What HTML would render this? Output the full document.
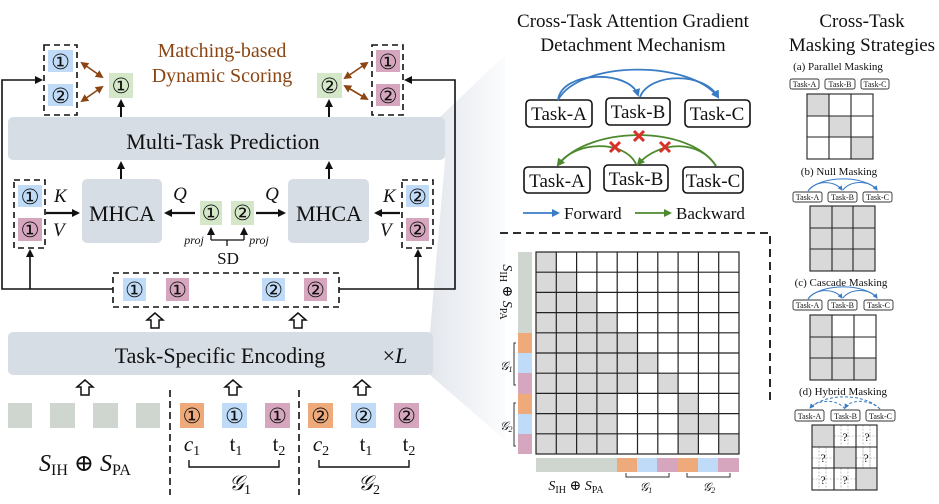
<!DOCTYPE html>
<html><head><meta charset="utf-8"><style>
html,body{margin:0;padding:0;background:#fff}
svg{display:block}
text{font-family:"Liberation Serif","DejaVu Serif",serif;fill:#111}
.c{font-family:"DejaVu Sans",sans-serif;font-size:21px;text-anchor:middle}
</style></head><body>
<svg width="939" height="504" viewBox="0 0 939 504" xmlns="http://www.w3.org/2000/svg">
<defs>
<marker id="ah" markerWidth="8" markerHeight="8" refX="6" refY="4" orient="auto" markerUnits="userSpaceOnUse"><path d="M0,0 L8,4 L0,8 z" fill="#111"/></marker>
<marker id="ab" markerWidth="8" markerHeight="8" refX="6" refY="4" orient="auto-start-reverse" markerUnits="userSpaceOnUse"><path d="M0,0 L8,4 L0,8 z" fill="#8b4513"/></marker>
<marker id="abl" markerWidth="8" markerHeight="8" refX="6" refY="4" orient="auto" markerUnits="userSpaceOnUse"><path d="M0,0 L8,4 L0,8 z" fill="#3a7cc4"/></marker>
<marker id="agr" markerWidth="8" markerHeight="8" refX="6" refY="4" orient="auto" markerUnits="userSpaceOnUse"><path d="M0,0 L8,4 L0,8 z" fill="#4d8a2e"/></marker>
<marker id="abs" markerWidth="5" markerHeight="5" refX="4" refY="2.5" orient="auto" markerUnits="userSpaceOnUse"><path d="M0,0 L5,2.5 L0,5 z" fill="#3a7cc4"/></marker>
<linearGradient id="fg" x1="0" x2="1"><stop offset="0" stop-color="#e3e7ed"/><stop offset="1" stop-color="#fbfcfd"/></linearGradient>
</defs>
<polygon points="440,117 505,55 505,440 430,375 430,332 445,160" fill="url(#fg)"/>
<rect x="8" y="117" width="437" height="43" rx="5" fill="#d7dde5"/>
<text x="223" y="149" font-size="22" text-anchor="middle">Multi-Task Prediction</text>
<rect x="44" y="45" width="33" height="70" fill="none" stroke="#111" stroke-width="1.6" stroke-dasharray="6,4"/>
<rect x="48" y="50" width="25" height="22" fill="#bfdbf7"/><text class="c" x="60.5" y="69">①</text>
<rect x="48" y="84" width="25" height="22" fill="#bfdbf7"/><text class="c" x="60.5" y="103">②</text>
<rect x="109" y="73" width="24" height="25" fill="#d4e8c9"/><text class="c" x="121" y="93">①</text>
<line x1="82" y1="63" x2="102" y2="77" stroke="#8b4513" stroke-width="1.6" marker-start="url(#ab)" marker-end="url(#ab)"/>
<line x1="82" y1="101" x2="102" y2="87" stroke="#8b4513" stroke-width="1.6" marker-start="url(#ab)" marker-end="url(#ab)"/>
<line x1="121" y1="117" x2="121" y2="101" stroke="#111" stroke-width="2" marker-end="url(#ah)"/>
<text x="222" y="57" font-size="20" style="fill:#8b4513" text-anchor="middle">Matching-based</text>
<text x="222" y="82" font-size="20" style="fill:#8b4513" text-anchor="middle">Dynamic Scoring</text>
<rect x="372" y="45" width="31" height="70" fill="none" stroke="#111" stroke-width="1.6" stroke-dasharray="6,4"/>
<rect x="376" y="50" width="24" height="22" fill="#d5a6bd"/><text class="c" x="388" y="69">①</text>
<rect x="376" y="84" width="24" height="22" fill="#d5a6bd"/><text class="c" x="388" y="103">②</text>
<rect x="317" y="73" width="25" height="25" fill="#d4e8c9"/><text class="c" x="329.5" y="93">②</text>
<line x1="345" y1="78" x2="367" y2="63" stroke="#8b4513" stroke-width="1.6" marker-start="url(#ab)" marker-end="url(#ab)"/>
<line x1="345" y1="86" x2="367" y2="99" stroke="#8b4513" stroke-width="1.6" marker-start="url(#ab)" marker-end="url(#ab)"/>
<line x1="329" y1="117" x2="329" y2="101" stroke="#111" stroke-width="2" marker-end="url(#ah)"/>
<polyline points="113,289 2,289 2,80 41,80" fill="none" stroke="#111" stroke-width="1.6" marker-end="url(#ah)"/>
<polyline points="339,289 455,289 455,80 406,80" fill="none" stroke="#111" stroke-width="1.6" marker-end="url(#ah)"/>
<line x1="30" y1="289" x2="30" y2="251" stroke="#111" stroke-width="1.6" marker-end="url(#ah)"/>
<line x1="418" y1="289" x2="418" y2="251" stroke="#111" stroke-width="1.6" marker-end="url(#ah)"/>
<rect x="113" y="273" width="226" height="34" fill="#fff" stroke="#111" stroke-width="1.6" stroke-dasharray="6,4"/>
<rect x="123" y="278" width="23" height="23" fill="#bfdbf7"/><text class="c" x="134.5" y="297">①</text>
<rect x="166" y="278" width="23" height="23" fill="#d5a6bd"/><text class="c" x="177.5" y="297">①</text>
<rect x="262" y="278" width="23" height="23" fill="#bfdbf7"/><text class="c" x="273.5" y="297">②</text>
<rect x="304" y="278" width="23" height="23" fill="#d5a6bd"/><text class="c" x="315.5" y="297">②</text>
<rect x="14" y="180" width="31" height="68" fill="none" stroke="#111" stroke-width="1.6" stroke-dasharray="6,4"/>
<rect x="18" y="185" width="24" height="22" fill="#bfdbf7"/><text class="c" x="30" y="204">①</text>
<rect x="18" y="218" width="24" height="23" fill="#d5a6bd"/><text class="c" x="30" y="237">①</text>
<text x="54" y="202" font-size="19" font-style="italic">K</text>
<text x="53" y="236" font-size="19" font-style="italic">V</text>
<line x1="46" y1="213" x2="78" y2="213" stroke="#111" stroke-width="2.2" marker-end="url(#ah)"/>
<rect x="82" y="179" width="80" height="64" rx="5" fill="#d7dde5"/>
<text x="122" y="221" font-size="22" text-anchor="middle">MHCA</text>
<line x1="121" y1="179" x2="121" y2="163" stroke="#111" stroke-width="2" marker-end="url(#ah)"/>
<line x1="195" y1="213" x2="166" y2="213" stroke="#111" stroke-width="2.2" marker-end="url(#ah)"/>
<text x="180" y="200" font-size="19" font-style="italic" text-anchor="middle">Q</text>
<rect x="200" y="201" width="22" height="24" fill="#d4e8c9"/><text class="c" x="211" y="220">①</text>
<rect x="231" y="201" width="23" height="24" fill="#d4e8c9"/><text class="c" x="242.5" y="220">②</text>
<line x1="256" y1="213" x2="284" y2="213" stroke="#111" stroke-width="2.2" marker-end="url(#ah)"/>
<text x="272" y="200" font-size="19" font-style="italic" text-anchor="middle">Q</text>
<polyline points="211,240 244,240" fill="none" stroke="#111" stroke-width="1.3"/>
<line x1="211" y1="240" x2="211" y2="229" stroke="#111" stroke-width="1.3" marker-end="url(#ah)"/>
<line x1="244" y1="240" x2="244" y2="229" stroke="#111" stroke-width="1.3" marker-end="url(#ah)"/>
<line x1="227" y1="240" x2="227" y2="246" stroke="#111" stroke-width="1.3"/>
<text x="194" y="244" font-size="12" font-style="italic" text-anchor="middle">proj</text>
<text x="259" y="244" font-size="12" font-style="italic" text-anchor="middle">proj</text>
<text x="228" y="264" font-size="17" text-anchor="middle">SD</text>
<rect x="288" y="179" width="81" height="64" rx="5" fill="#d7dde5"/>
<text x="329" y="221" font-size="22" text-anchor="middle">MHCA</text>
<line x1="329" y1="179" x2="329" y2="163" stroke="#111" stroke-width="2" marker-end="url(#ah)"/>
<rect x="402" y="180" width="31" height="68" fill="none" stroke="#111" stroke-width="1.6" stroke-dasharray="6,4"/>
<rect x="406" y="185" width="23" height="22" fill="#bfdbf7"/><text class="c" x="417.5" y="204">②</text>
<rect x="406" y="218" width="23" height="23" fill="#d5a6bd"/><text class="c" x="417.5" y="237">②</text>
<text x="383" y="202" font-size="19" font-style="italic">K</text>
<text x="380" y="236" font-size="19" font-style="italic">V</text>
<line x1="400" y1="213" x2="376" y2="213" stroke="#111" stroke-width="2.2" marker-end="url(#ah)"/>
<g fill="#fff" stroke="#111" stroke-width="1.5">
<path d="M155,313 l-8,7 h4 v8 h8 v-8 h4 z"/>
<path d="M298,313 l-8,7 h4 v8 h8 v-8 h4 z"/>
<path d="M85,380 l-8,7 h4 v8 h8 v-8 h4 z"/>
<path d="M233,380 l-8,7 h4 v8 h8 v-8 h4 z"/>
<path d="M362,380 l-8,7 h4 v8 h8 v-8 h4 z"/>
</g>
<rect x="8" y="332" width="425" height="43" rx="5" fill="#d7dde5"/>
<text x="220" y="363" font-size="22" text-anchor="middle">Task-Specific Encoding</text>
<text x="395" y="363" font-size="22" text-anchor="middle">×<tspan font-style="italic">L</tspan></text>
<g fill="#cfd6cf"><rect x="8" y="403" width="24" height="25"/><rect x="50" y="403" width="25" height="25"/><rect x="93" y="403" width="25" height="25"/><rect x="136" y="403" width="24" height="25"/></g>
<line x1="170" y1="390" x2="170" y2="495" stroke="#111" stroke-width="1.6" stroke-dasharray="7,4"/>
<line x1="299" y1="390" x2="299" y2="495" stroke="#111" stroke-width="1.6" stroke-dasharray="7,4"/>
<rect x="180" y="403" width="24" height="25" fill="#eeaa7b"/><text class="c" x="192" y="423">①</text>
<rect x="222" y="403" width="25" height="25" fill="#bfdbf7"/><text class="c" x="234.5" y="423">①</text>
<rect x="265" y="403" width="25" height="25" fill="#d5a6bd"/><text class="c" x="277.5" y="423">①</text>
<rect x="308" y="403" width="25" height="25" fill="#eeaa7b"/><text class="c" x="320.5" y="423">②</text>
<rect x="351" y="403" width="25" height="25" fill="#bfdbf7"/><text class="c" x="363.5" y="423">②</text>
<rect x="394" y="403" width="25" height="25" fill="#d5a6bd"/><text class="c" x="406.5" y="423">②</text>
<g font-size="21" text-anchor="middle">
<text x="192" y="451"><tspan font-style="italic">c</tspan><tspan font-size="14" dy="4">1</tspan></text>
<text x="236" y="451">t<tspan font-size="14" dy="4">1</tspan></text>
<text x="279" y="451">t<tspan font-size="14" dy="4">2</tspan></text>
<text x="321" y="451"><tspan font-style="italic">c</tspan><tspan font-size="14" dy="4">2</tspan></text>
<text x="366" y="451">t<tspan font-size="14" dy="4">1</tspan></text>
<text x="409" y="451">t<tspan font-size="14" dy="4">2</tspan></text>
<text x="240" y="490" font-style="italic">𝒢<tspan font-size="14" dy="4" font-style="normal">1</tspan></text>
<text x="369" y="490" font-style="italic">𝒢<tspan font-size="14" dy="4" font-style="normal">2</tspan></text>
<text x="85" y="471" font-size="24"><tspan font-style="italic">S</tspan><tspan font-size="16" dy="4">IH</tspan><tspan dy="-4"> ⊕ </tspan><tspan font-style="italic">S</tspan><tspan font-size="16" dy="4">PA</tspan></text>
</g>
<polyline points="189,460 189,467 279,467 279,460" fill="none" stroke="#111" stroke-width="1.4"/>
<polyline points="319,460 319,467 409,467 409,460" fill="none" stroke="#111" stroke-width="1.4"/>

<text x="633" y="27" font-size="19" text-anchor="middle">Cross-Task Attention Gradient</text>
<text x="633" y="51" font-size="19" text-anchor="middle">Detachment Mechanism</text>
<g fill="#fff" stroke="#111" stroke-width="1.6">
<rect x="526" y="100" width="66" height="27" rx="4"/><rect x="606" y="98" width="64" height="27" rx="4"/><rect x="685" y="100" width="65" height="27" rx="4"/>
<rect x="524" y="167" width="66" height="26" rx="4"/><rect x="604" y="165" width="64" height="26" rx="4"/><rect x="683" y="167" width="60" height="26" rx="4"/>
</g>
<g font-size="19" text-anchor="middle">
<text x="559" y="120">Task-A</text><text x="638" y="118">Task-B</text><text x="717" y="120">Task-C</text>
<text x="557" y="187">Task-A</text><text x="636" y="185">Task-B</text><text x="713" y="187">Task-C</text>
</g>
<g fill="none" stroke="#3a7cc4" stroke-width="1.8">
<path d="M558,100 C562,70 630,70 638,95" marker-end="url(#abl)"/>
<path d="M558,100 C580,60 690,60 718,97" marker-end="url(#abl)"/>
<path d="M640,97 C650,72 705,72 718,97" marker-end="url(#abl)"/>
</g>
<g fill="none" stroke="#4d8a2e" stroke-width="1.8">
<path d="M716,166 C700,140 660,140 638,164" marker-end="url(#agr)"/>
<path d="M716,166 C690,125 590,125 558,165" marker-end="url(#agr)"/>
<path d="M636,164 C625,140 575,140 558,165" marker-end="url(#agr)"/>
</g>
<g stroke="#d9302a" stroke-width="3">
<path d="M634,131 l10,10 M644,131 l-10,10"/>
<path d="M610,142 l10,10 M620,142 l-10,10"/>
<path d="M660,142 l10,10 M670,142 l-10,10"/>
</g>
<line x1="523" y1="213" x2="558" y2="213" stroke="#3a7cc4" stroke-width="1.8" marker-end="url(#abl)"/>
<text x="564" y="219" font-size="17">Forward</text>
<line x1="635" y1="213" x2="670" y2="213" stroke="#4d8a2e" stroke-width="1.8" marker-end="url(#agr)"/>
<text x="676" y="219" font-size="17">Backward</text>

<polyline points="500,233 770,233 770,405" fill="none" stroke="#111" stroke-width="1.8" stroke-dasharray="8,5"/>

<rect x="518" y="252" width="14" height="81" fill="#cfd6cf"/>
<rect x="518" y="333" width="14" height="20" fill="#eeaa7b"/>
<rect x="518" y="353" width="14" height="20" fill="#bfdbf7"/>
<rect x="518" y="373" width="14" height="21" fill="#d5a6bd"/>
<rect x="518" y="394" width="14" height="20" fill="#eeaa7b"/>
<rect x="518" y="414" width="14" height="20" fill="#bfdbf7"/>
<rect x="518" y="434" width="14" height="20" fill="#d5a6bd"/>
<rect x="536" y="458" width="81" height="14" fill="#cfd6cf"/>
<rect x="617" y="458" width="20" height="14" fill="#eeaa7b"/>
<rect x="637" y="458" width="20" height="14" fill="#bfdbf7"/>
<rect x="657" y="458" width="21" height="14" fill="#d5a6bd"/>
<rect x="678" y="458" width="20" height="14" fill="#eeaa7b"/>
<rect x="698" y="458" width="20" height="14" fill="#bfdbf7"/>
<rect x="718" y="458" width="21" height="14" fill="#d5a6bd"/>
<g fill="#d9d9d9">
<rect x="536" y="252" width="20.3" height="20.2"/>
<rect x="536" y="272.2" width="40.6" height="20.2"/>
<rect x="536" y="292.4" width="60.9" height="20.2"/>
<rect x="536" y="312.6" width="81.2" height="20.2"/>
<rect x="536" y="332.8" width="101.5" height="20.2"/>
<rect x="536" y="353" width="121.8" height="20.2"/>
<rect x="536" y="373.2" width="101.5" height="20.2"/><rect x="657.8" y="373.2" width="20.3" height="20.2"/>
<rect x="536" y="393.4" width="81.2" height="20.2"/><rect x="678.1" y="393.4" width="20.3" height="20.2"/>
<rect x="536" y="413.6" width="81.2" height="20.2"/><rect x="678.1" y="413.6" width="40.6" height="20.2"/>
<rect x="536" y="433.8" width="81.2" height="20.2"/><rect x="678.1" y="433.8" width="20.3" height="20.2"/><rect x="718.7" y="433.8" width="20.3" height="20.2"/>
</g>
<g stroke="#222" stroke-width="1.2" fill="none">
<rect x="536" y="252" width="203" height="202"/>
<path d="M556.3,252V454M576.6,252V454M596.9,252V454M617.2,252V454M637.5,252V454M657.8,252V454M678.1,252V454M698.4,252V454M718.7,252V454"/>
<path d="M536,272.2H739M536,292.4H739M536,312.6H739M536,332.8H739M536,353H739M536,373.2H739M536,393.4H739M536,413.6H739M536,433.8H739"/>
</g>
<text transform="translate(503,292) rotate(90)" font-size="14" text-anchor="middle"><tspan font-style="italic">S</tspan><tspan font-size="10" dy="3">IH</tspan><tspan dy="-3"> ⊕ </tspan><tspan font-style="italic">S</tspan><tspan font-size="10" dy="3">PA</tspan></text>
<polyline points="516,343 514,343 514,385 516,385" fill="none" stroke="#333" stroke-width="1"/>
<polyline points="516,403 514,403 514,446 516,446" fill="none" stroke="#333" stroke-width="1"/>
<text x="500" y="370" font-size="12" font-style="italic">𝒢<tspan font-size="8" dy="2">1</tspan></text>
<text x="500" y="430" font-size="12" font-style="italic">𝒢<tspan font-size="8" dy="2">2</tspan></text>
<text x="576" y="490" font-size="14" text-anchor="middle"><tspan font-style="italic">S</tspan><tspan font-size="10" dy="3">IH</tspan><tspan dy="-3"> ⊕ </tspan><tspan font-style="italic">S</tspan><tspan font-size="10" dy="3">PA</tspan></text>
<polyline points="626,473 626,477 669,477 669,473" fill="none" stroke="#333" stroke-width="1"/>
<polyline points="687,473 687,477 730,477 730,473" fill="none" stroke="#333" stroke-width="1"/>
<text x="646" y="491" font-size="12" font-style="italic" text-anchor="middle">𝒢<tspan font-size="8" dy="2">1</tspan></text>
<text x="709" y="491" font-size="12" font-style="italic" text-anchor="middle">𝒢<tspan font-size="8" dy="2">2</tspan></text>

<text x="862" y="27" font-size="19" text-anchor="middle">Cross-Task</text>
<text x="862" y="51" font-size="19" text-anchor="middle">Masking Strategies</text>
<g font-size="11" text-anchor="middle">
<text x="838" y="70">(a) Parallel Masking</text>
<text x="839" y="175">(b) Null Masking</text>
<text x="841" y="286">(c) Cascade Masking</text>
<text x="843" y="395">(d) Hybrid Masking</text>
</g>
<g fill="#fff" stroke="#333" stroke-width="0.9">
<rect x="790" y="79" width="29" height="10" rx="2"/><rect x="825" y="79" width="30" height="10" rx="2"/><rect x="861" y="79" width="28" height="10" rx="2"/>
<rect x="793" y="192" width="29" height="10" rx="2"/><rect x="828" y="192" width="29" height="10" rx="2"/><rect x="863" y="192" width="29" height="10" rx="2"/>
<rect x="793" y="300" width="29" height="10" rx="2"/><rect x="828" y="300" width="29" height="10" rx="2"/><rect x="864" y="300" width="29" height="10" rx="2"/>
<rect x="795" y="410" width="29" height="11" rx="2"/><rect x="831" y="410" width="29" height="11" rx="2"/><rect x="866" y="410" width="29" height="11" rx="2"/>
</g>
<g font-size="8" text-anchor="middle">
<text x="804.5" y="87">Task-A</text><text x="840" y="87">Task-B</text><text x="875" y="87">Task-C</text>
<text x="807.5" y="200">Task-A</text><text x="842.5" y="200">Task-B</text><text x="877.5" y="200">Task-C</text>
<text x="807.5" y="308">Task-A</text><text x="842.5" y="308">Task-B</text><text x="878.5" y="308">Task-C</text>
<text x="809.5" y="419">Task-A</text><text x="845.5" y="419">Task-B</text><text x="880.5" y="419">Task-C</text>
</g>
<g fill="none" stroke="#3a7cc4" stroke-width="1">
<path d="M808,191 C815,180 835,180 842,190" marker-end="url(#abs)"/><path d="M843,190 C850,180 870,180 877,190" marker-end="url(#abs)"/><path d="M808,191 C820,175 865,175 877,190"/>
<path d="M808,299 C815,288 835,288 842,298" marker-end="url(#abs)"/><path d="M843,298 C850,288 870,288 877,298" marker-end="url(#abs)"/><path d="M808,299 C820,283 865,283 877,298"/>
<g stroke-dasharray="3,2"><path d="M880,409 C870,399 850,399 845,408" marker-end="url(#abs)"/><path d="M845,409 C838,399 818,399 810,408" marker-end="url(#abs)"/><path d="M880,409 C865,393 825,393 810,408"/></g>
</g>
<g fill="#d9d9d9"><rect x="807" y="94" width="22" height="22"/><rect x="829" y="116" width="22" height="21"/><rect x="851" y="137" width="22" height="22"/></g>
<g fill="none" stroke="#222" stroke-width="1.1"><rect x="807" y="94" width="66" height="65"/><path d="M829,94V159M851,94V159M807,116H873M807,137H873"/></g>
<rect x="810" y="206" width="65" height="65" fill="#d9d9d9"/>
<g fill="none" stroke="#222" stroke-width="1.1"><rect x="810" y="206" width="65" height="65"/><path d="M832,206V271M853,206V271M810,228H875M810,249H875"/></g>
<g fill="#d9d9d9"><rect x="810" y="315" width="22" height="65"/><rect x="832" y="337" width="22" height="43"/><rect x="854" y="358" width="22" height="22"/></g>
<g fill="none" stroke="#222" stroke-width="1.1"><rect x="810" y="315" width="66" height="65"/><path d="M832,315V380M854,315V380M810,337H876M810,358H876"/></g>
<g fill="#d9d9d9"><rect x="812" y="425" width="22" height="22"/><rect x="834" y="447" width="22" height="21"/><rect x="856" y="468" width="21" height="22"/></g>
<g fill="none" stroke="#999" stroke-width="0.6" stroke-dasharray="2,1.5">
<path d="M841,425V447M848,425V447M863,425V468M870,425V468M819,447V490M826,447V490M841,468V490M848,468V490M863,447V468M870,447V468"/>
<path d="M834,436H877M812,458H834M856,458H877M812,479H856"/>
</g>
<g fill="none" stroke="#222" stroke-width="1.1"><rect x="812" y="425" width="65" height="65"/><path d="M834,425V490M856,425V490M812,447H877M812,468H877"/></g>
<g font-size="12" text-anchor="middle" font-family="Liberation Sans,sans-serif">
<text x="845" y="441">?</text><text x="867" y="441">?</text><text x="823" y="462">?</text><text x="866" y="462">?</text><text x="823" y="484">?</text><text x="845" y="484">?</text>
</g>
</svg>
</body></html>
